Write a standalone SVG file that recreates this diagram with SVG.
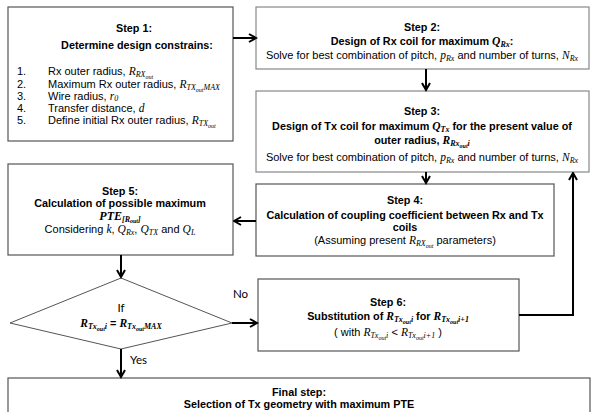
<svg xmlns="http://www.w3.org/2000/svg" width="591" height="412" viewBox="0 0 591 412">
<style>
.box{fill:#fff;stroke:#555;stroke-width:1.2}
.box2{fill:#fff;stroke:#888;stroke-width:1.2}
.h{font-family:"Liberation Sans",Arial,sans-serif;font-weight:bold;font-size:10.8px;fill:#000}
.t{font-family:"Liberation Sans",Arial,sans-serif;font-size:11px;fill:#000}
.c{text-anchor:middle}
.m{font-family:"Liberation Serif","Times New Roman",serif;font-style:italic;font-size:11.5px}
.s{font-size:8px}
.ss{font-size:6px}
.lbl{font-family:Lato,"Open Sans",sans-serif;font-size:11.5px;fill:#000}
.con{fill:none;stroke:#000;stroke-width:2}
</style>
<defs>
<marker id="arr" viewBox="0 0 10 10" refX="8.5" refY="5" markerWidth="10" markerHeight="10" markerUnits="userSpaceOnUse" orient="auto">
<path d="M1.5,1 L8.5,5 L1.5,9" fill="none" stroke="#000" stroke-width="2"/>
</marker>
</defs>

<g id="step1">
<rect class="box" x="8" y="7" width="225" height="134"/>
<text class="h c" x="134" y="32">Step 1:</text>
<text class="h c" x="137" y="49">Determine design constrains:</text>
<text class="t" x="17" y="75">1.</text>
<text class="t" x="48" y="75">Rx outer radius, <tspan class="m">R</tspan><tspan class="m s" dy="2">RX</tspan><tspan class="m ss" dy="1.5">out</tspan></text>
<text class="t" x="17" y="88">2.</text>
<text class="t" x="48" y="88">Maximum Rx outer radius, <tspan class="m">R</tspan><tspan class="m s" dy="2">TX</tspan><tspan class="m ss" dy="1.5">out</tspan><tspan class="m s" dy="-1.5">MAX</tspan></text>
<text class="t" x="17" y="100">3.</text>
<text class="t" x="48" y="100">Wire radius, <tspan class="m">r</tspan><tspan class="m s" dy="1">0</tspan></text>
<text class="t" x="17" y="112">4.</text>
<text class="t" x="48" y="112">Transfer distance, <tspan class="m">d</tspan></text>
<text class="t" x="17" y="124">5.</text>
<text class="t" x="48" y="124">Define initial Rx outer radius, <tspan class="m">R</tspan><tspan class="m s" dy="2">TX</tspan><tspan class="m ss" dy="1.5">out</tspan></text>
</g>

<g id="step2">
<rect class="box2" x="256" y="7" width="333" height="62"/>
<text class="h c" x="422" y="31">Step 2:</text>
<text class="h c" x="422" y="45">Design of Rx coil for maximum <tspan class="m">Q</tspan><tspan class="m s" dy="2">Rx</tspan><tspan dy="-2">:</tspan></text>
<text class="t c" x="422" y="59">Solve for best combination of pitch, <tspan class="m">p</tspan><tspan class="m s" dy="2">Rx</tspan><tspan dy="-2"> and number of turns, </tspan><tspan class="m">N</tspan><tspan class="m s" dy="2">Rx</tspan></text>
</g>

<g id="step3">
<rect class="box2" x="256" y="91" width="333" height="81"/>
<text class="h c" x="422" y="115">Step 3:</text>
<text class="h c" x="422" y="130">Design of Tx coil for maximum <tspan class="m">Q</tspan><tspan class="m s" dy="2">Tx</tspan><tspan dy="-2"> for the present value of</tspan></text>
<text class="h c" x="422" y="144">outer radius, <tspan class="m">R</tspan><tspan class="m s" dy="2">Rx</tspan><tspan class="m ss" dy="1.5">out</tspan><tspan class="m s" dy="-1.5">i</tspan></text>
<text class="t c" x="422" y="161">Solve for best combination of pitch, <tspan class="m">p</tspan><tspan class="m s" dy="2">Rx</tspan><tspan dy="-2"> and number of turns, </tspan><tspan class="m">N</tspan><tspan class="m s" dy="2">Rx</tspan></text>
</g>

<g id="step4">
<rect class="box" x="256" y="184" width="298" height="72"/>
<text class="h c" x="405" y="204">Step 4:</text>
<text class="h c" x="405" y="219">Calculation of coupling coefficient between Rx and Tx</text>
<text class="h c" x="405" y="231">coils</text>
<text class="t c" x="405" y="244">(Assuming present <tspan class="m">R</tspan><tspan class="m s" dy="2">RX</tspan><tspan class="m ss" dy="1.5">out</tspan><tspan dy="-3.5"> parameters)</tspan></text>
</g>

<g id="step5">
<rect class="box" x="8" y="164" width="225" height="91"/>
<text class="h c" x="120" y="195">Step 5:</text>
<text class="h c" x="120" y="207">Calculation of possible maximum</text>
<text class="h c" x="120" y="220"><tspan class="m" style="font-size:12px">PTE</tspan><tspan class="m s" dy="1.5">[R</tspan><tspan class="m ss" dy="1">out</tspan><tspan class="m s" dy="-1">]</tspan></text>
<text class="t c" x="120" y="233">Considering <tspan class="m">k</tspan>, <tspan class="m">Q</tspan><tspan class="m s" dy="2">Rx</tspan><tspan dy="-2">, </tspan><tspan class="m">Q</tspan><tspan class="m s" dy="2">TX</tspan><tspan dy="-2"> and </tspan><tspan class="m">Q</tspan><tspan class="m s" dy="2">L</tspan></text>
</g>

<g id="decision">
<polygon points="121,278 232,323 121,349 10,323" fill="#fff" stroke="#555" stroke-width="1"/>
<text class="lbl c" x="121" y="312">If</text>
<text class="h c" x="121" y="327"><tspan class="m">R</tspan><tspan class="m s" dy="2">Tx</tspan><tspan class="m ss" dy="1.5">out</tspan><tspan class="m s" dy="-1.5">i</tspan><tspan dy="-2"> = </tspan><tspan class="m">R</tspan><tspan class="m s" dy="2">Tx</tspan><tspan class="m ss" dy="1.5">out</tspan><tspan class="m s" dy="-1.5">MAX</tspan></text>
</g>

<g id="step6">
<rect class="box" x="258" y="279" width="261" height="72"/>
<text class="h c" x="388" y="306">Step 6:</text>
<text class="h c" x="388" y="320">Substitution of  <tspan class="m">R</tspan><tspan class="m s" dy="2">Tx</tspan><tspan class="m ss" dy="1.5">out</tspan><tspan class="m s" dy="-1.5">i</tspan><tspan dy="-2"> for </tspan><tspan class="m">R</tspan><tspan class="m s" dy="2">Tx</tspan><tspan class="m ss" dy="1.5">out</tspan><tspan class="m s" dy="-1.5">i+1</tspan></text>
<text class="t c" x="388" y="336">( with <tspan class="m">R</tspan><tspan class="m s" dy="2">Tx</tspan><tspan class="m ss" dy="1.5">out</tspan><tspan class="m s" dy="-1.5">i</tspan><tspan dy="-2"> &lt; </tspan><tspan class="m">R</tspan><tspan class="m s" dy="2">Tx</tspan><tspan class="m ss" dy="1.5">out</tspan><tspan class="m s" dy="-1.5">i+1</tspan><tspan dy="-2"> )</tspan></text>
</g>

<g id="final">
<rect class="box" x="8" y="378" width="582" height="40"/>
<text class="h c" x="299" y="396">Final step:</text>
<text class="h c" x="299" y="408">Selection of Tx geometry with maximum PTE</text>
</g>

<g id="connectors">
<line class="con" x1="233" y1="38" x2="256" y2="38" marker-end="url(#arr)"/>
<line class="con" x1="426" y1="69" x2="426" y2="90" marker-end="url(#arr)"/>
<line class="con" x1="426" y1="172" x2="426" y2="183" marker-end="url(#arr)"/>
<line class="con" x1="256" y1="221" x2="234" y2="221" marker-end="url(#arr)"/>
<line class="con" x1="121" y1="255" x2="121" y2="277" marker-end="url(#arr)"/>
<line class="con" x1="232" y1="323" x2="257" y2="323" marker-end="url(#arr)"/>
<polyline class="con" points="519,315 573,315 573,173" stroke-width="2.5" marker-end="url(#arr)"/>
<line class="con" x1="121" y1="349" x2="121" y2="377" marker-end="url(#arr)"/>
<text class="lbl" x="233" y="298">No</text>
<text class="lbl" x="130" y="364">Yes</text>
</g>
</svg>
